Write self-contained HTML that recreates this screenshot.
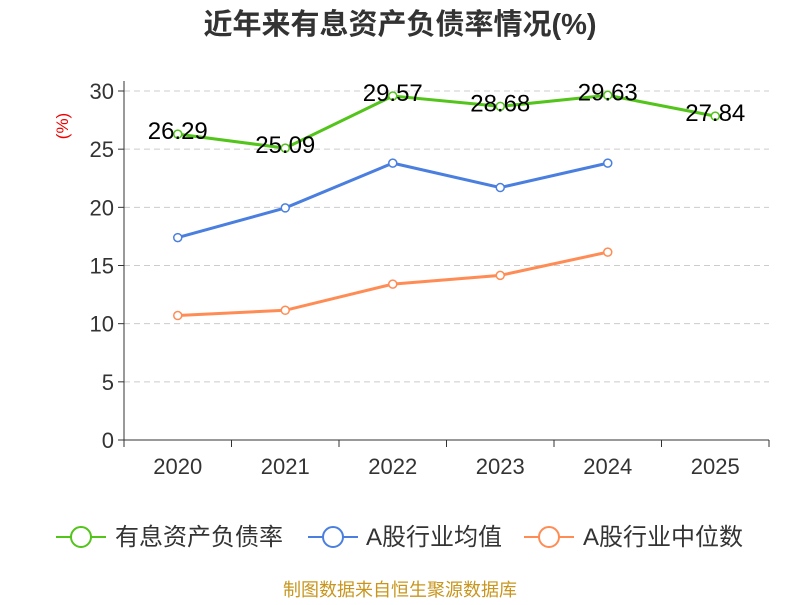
<!DOCTYPE html>
<html><head><meta charset="utf-8"><style>
body{margin:0;background:#fff;width:800px;height:600px;overflow:hidden;font-family:"Liberation Sans","Noto Sans CJK SC",sans-serif}
</style></head><body>
<svg id="c" width="800" height="600" xmlns="http://www.w3.org/2000/svg">
<text x="400" y="34" text-anchor="middle" font-size="29" font-weight="bold" fill="#333" font-family="Liberation Sans,Noto Sans CJK SC,sans-serif">近年来有息资产负债率情况(%)</text>
<text transform="translate(68,126) rotate(-90)" text-anchor="middle" font-size="17" fill="#e00">(%)</text>
<g id="grid"></g><g id="axes"></g><g id="series"></g>
<g font-size="24" fill="#333" font-family="Liberation Sans,Noto Sans CJK SC,sans-serif">
<g><line x1="56" y1="537" x2="106" y2="537" stroke="#52c41a" stroke-width="2"/><circle cx="81" cy="537" r="10" fill="#fff" stroke="#52c41a" stroke-width="2"/><text x="115" y="545">有息资产负债率</text></g>
<g><line x1="308" y1="537" x2="358" y2="537" stroke="#4a7fe0" stroke-width="2"/><circle cx="333" cy="537" r="10" fill="#fff" stroke="#4a7fe0" stroke-width="2"/><text x="366" y="545">A股行业均值</text></g>
<g><line x1="524" y1="537" x2="574" y2="537" stroke="#ff8c55" stroke-width="2"/><circle cx="549" cy="537" r="10" fill="#fff" stroke="#ff8c55" stroke-width="2"/><text x="583" y="545">A股行业中位数</text></g>
</g>
<text x="400" y="596" text-anchor="middle" font-size="18" fill="#c8961e">制图数据来自恒生聚源数据库</text>
</svg>
<script>
const categories=["2020","2021","2022","2023","2024","2025"];
const debtRatio=[26.29,25.09,29.57,28.68,29.63,27.84];
const industryAvg=[17.4,19.95,23.8,21.7,23.8];
const industryMedian=[10.7,11.15,13.4,14.15,16.15];
const yTicks=[0,5,10,15,20,25,30];
const NS="http://www.w3.org/2000/svg";
const x0=124,x1=769,y0=440,y1=91;
const band=(x1-x0)/categories.length;
const xs=i=>x0+band*(i+0.5);
const ys=v=>y0-(v/30)*(y0-y1);
function mk(p,t,a){const e=document.createElementNS(NS,t);for(const k in a)e.setAttribute(k,a[k]);p.appendChild(e);return e;}
const grid=document.getElementById('grid'),axes=document.getElementById('axes'),ser=document.getElementById('series');
yTicks.forEach(v=>{
 if(v>0){const g=mk(grid,'line',{x1:x0,x2:x1,y1:ys(v),y2:ys(v),stroke:'#ccc','stroke-dasharray':'6,4'});
 
 }
 const tk=mk(axes,'line',{x1:x0-6,x2:x0,y1:ys(v),y2:ys(v),stroke:'#333'});
 
 
 const t=mk(axes,'text',{x:x0-10,y:ys(v)+8,'text-anchor':'end','font-size':22,fill:'#333'});t.textContent=v;
 
 
});
const ya=mk(axes,'line',{x1:x0,x2:x0,y1:y1-10,y2:y0,stroke:'#333'});


const xa=mk(axes,'line',{x1:x0,x2:x1,y1:y0,y2:y0,stroke:'#333'});


for(let i=0;i<=categories.length;i++){const l=mk(axes,'line',{x1:x0+band*i,x2:x0+band*i,y1:y0,y2:y0+7,stroke:'#333'});
 
 }
categories.forEach((c,i)=>{const t=mk(axes,'text',{x:xs(i),y:y0+34,'text-anchor':'middle','font-size':22,fill:'#333'});t.textContent=c;
 
 });
function line(data,color,name,labels){
 const g=mk(ser,'g',{});
 
 
 mk(g,'polyline',{points:data.map((v,i)=>xs(i)+','+ys(v)).join(' '),fill:'none',stroke:color,'stroke-width':3});
 data.forEach((v,i)=>{const p=mk(g,'circle',{cx:xs(i),cy:ys(v),r:4,fill:'#fff',stroke:color,'stroke-width':1.5});
  
  
  if(labels){const t=mk(g,'text',{x:xs(i),y:ys(v)+5,'text-anchor':'middle','font-size':24,fill:'#000'});t.textContent=v.toFixed(2);
   
   }
 });
}
line(industryMedian,'#ff8c55','industry-median-series',false);
line(industryAvg,'#4a7fe0','industry-avg-series',false);
line(debtRatio,'#52c41a','debt-ratio-series',true);
</script>
</body></html>
